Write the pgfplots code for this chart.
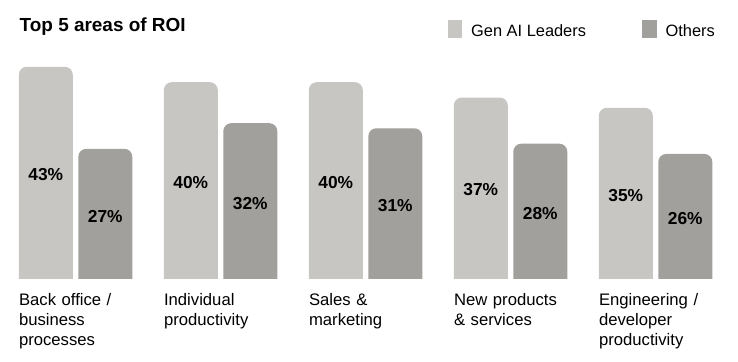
\documentclass[border=0pt]{standalone}
\usepackage{pgfplots}
\pgfplotsset{compat=1.18}
\usepackage{pgfplotstable}
\usepackage{fontspec}
\setmainfont{Liberation Sans}
\definecolor{lead}{RGB}{199,198,195}
\definecolor{oth}{RGB}{161,160,156}
\pgfplotstableread{
x lead oth
0 43 27
1 40 32
2 40 31
3 37 28
4 35 26
}\roidata
\begin{document}
\begin{tikzpicture}
\useasboundingbox (0,0) rectangle (553.5pt,270.75pt);
\begin{scope}
\clip (0pt,62.25pt) rectangle (553.5pt,270.75pt);
\begin{axis}[
  at={(0pt,55.33pt)}, anchor=south west,
  scale only axis, width=553.5pt, height=215.42pt,
  xmin=-0.521, xmax=4.5686, ymin=0, ymax=56.02,
  hide axis,
  clip=true,
]
\addplot[ybar, bar width=40.5pt, bar shift=-22.31pt, fill=lead, draw=none, rounded corners=6pt,
  point meta=explicit symbolic,
  nodes near coords={\pgfplotspointmeta\%},
  every node near coord/.append style={anchor=center, xshift=-22.31pt, yshift={-1.875pt*\pgfplotspointmeta}, font=\fontsize{13}{15}\selectfont\bfseries, text=black, inner sep=0pt}] table[x=x,y=lead,meta=lead]{\roidata};
\addplot[ybar, bar width=40.5pt, bar shift=22.31pt, fill=oth, draw=none, rounded corners=6pt,
  point meta=explicit symbolic,
  nodes near coords={\pgfplotspointmeta\%},
  every node near coord/.append style={anchor=center, xshift=22.31pt, yshift={-1.875pt*\pgfplotspointmeta}, font=\fontsize{13}{15}\selectfont\bfseries, text=black, inner sep=0pt}] table[x=x,y=oth,meta=oth]{\roidata};
\end{axis}
\end{scope}
\begin{axis}[
  at={(0pt,62.25pt)}, anchor=south west,
  scale only axis, width=553.5pt, height=208.5pt,
  xmin=-0.521, xmax=4.5686, ymin=1.8, ymax=56.02,
  axis line style={draw=none}, major tick length=0pt, ytick=\empty,
  xtick={0,1,2,3,4},
  xticklabels={Back office /\\business\\processes, Individual\\productivity, Sales \&\\marketing, New products\\\& services, Engineering /\\developer\\productivity},
  xticklabel style={anchor=north west, inner sep=0pt, xshift=-42.56pt, yshift=-11pt, align=left, text width=100pt, font=\fontsize{12.5}{15}\selectfont},
  legend columns=2,
  legend style={at={(axis description cs:0.6061,0.92806)}, anchor=north west, draw=none, fill=none, inner sep=0pt, column sep=6.7pt, nodes={inner sep=0pt, text depth=0pt}, cells={anchor=base west}, font=\fontsize{12.3}{14}\selectfont, /tikz/every even column/.append style={column sep=42pt}},
  legend image code/.code={\fill[#1, sharp corners] (0pt,-1pt) rectangle (11pt,12pt);},
]
\addlegendimage{fill=lead, draw=none}
\addlegendentry{Gen AI Leaders}
\addlegendimage{fill=oth, draw=none}
\addlegendentry{Others}
\end{axis}
\node[anchor=base west, inner sep=0pt, font=\fontsize{14.2}{16}\selectfont\bfseries] at (14.6pt,246.97pt) {Top 5 areas of ROI};
\end{tikzpicture}
\end{document}
